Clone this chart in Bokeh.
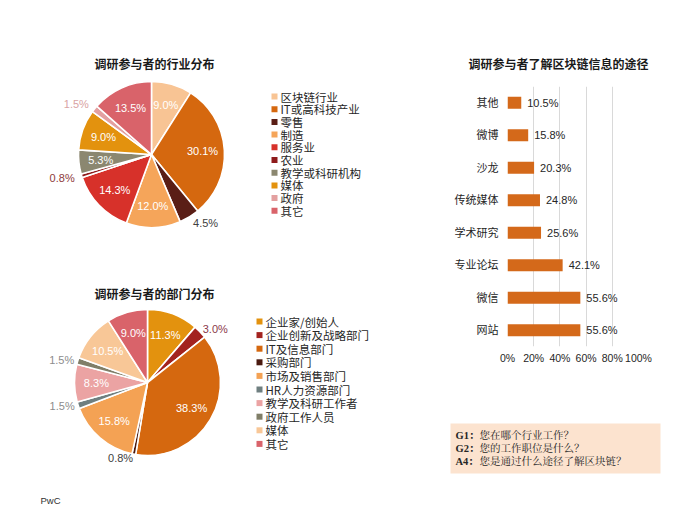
import math
from bokeh.plotting import figure
from bokeh.models import Range1d, FactorRange, FixedTicker, PrintfTickFormatter, BoxAnnotation, ColumnDataSource
from bokeh.layouts import row, column
from bokeh.embed import file_html
from bokeh.resources import INLINE
from bokeh.core.properties import value

# ---------------- data ----------------
industry_title = "调研参与者的行业分布"
industry_labels = ["区块链行业", "IT或高科技产业", "零售", "制造", "服务业", "农业",
                   "教学或科研机构", "媒体", "政府", "其它"]
industry_values = [9.0, 30.1, 4.5, 12.0, 14.3, 0.8, 5.3, 9.0, 1.5, 13.5]

dept_title = "调研参与者的部门分布"
dept_labels = ["企业家/创始人", "企业创新及战略部门", "IT及信息部门", "采购部门", "市场及销售部门",
               "HR人力资源部门", "教学及科研工作者", "政府工作人员", "媒体", "其它"]
dept_values = [11.3, 3.0, 38.3, 0.8, 15.8, 1.5, 8.3, 1.5, 10.5, 9.0]

channel_title = "调研参与者了解区块链信息的途径"
channel_labels = ["其他", "微博", "沙龙", "传统媒体", "学术研究", "专业论坛", "微信", "网站"]
channel_values = [10.5, 15.8, 20.3, 24.8, 25.6, 42.1, 55.6, 55.6]
pct_ticks = [0, 20, 40, 60, 80, 100]

note_keys = ["G1：", "G2：", "A4："]
note_questions = ["您在哪个行业工作？", "您的工作职位是什么？", "您是通过什么途径了解区块链？"]
source_text = "PwC"

# ---------------- styles ----------------
industry_colors = ["#F8C494", "#D5680F", "#5A1E16", "#F5A55A", "#D7312A", "#8E1B1B",
                   "#8B8770", "#E3920E", "#E3A0A0", "#D9636A"]
industry_out_colors = ["#FFFFFF", "#FFFFFF", "#404040", "#FFFFFF", "#FFFFFF", "#8E3A3A",
                       "#FFFFFF", "#FFFFFF", "#D9A3A3", "#FFFFFF"]
dept_colors = ["#E3920E", "#A3231F", "#D5680F", "#4A1A10", "#F4A254", "#6F7F80",
               "#EBA3A3", "#807E68", "#F8C797", "#D9636A"]
dept_out_colors = ["#FFFFFF", "#8B3A4A", "#FFFFFF", "#404040", "#FFFFFF", "#8C8C8C",
                   "#FFFFFF", "#8C8C8C", "#FFFFFF", "#FFFFFF"]
bar_color = "#D4691A"

SANS = "Liberation Sans, Noto Sans CJK SC"
CJK = "Noto Sans CJK SC"
SERIF = "Liberation Serif, Noto Serif CJK SC, Noto Sans CJK SC"


def pie_figure(w, h):
    p = figure(width=w, height=h, x_range=Range1d(0, w), y_range=Range1d(0, h),
               output_backend="svg", toolbar_location=None,
               x_axis_location=None, y_axis_location=None, min_border=0)
    p.grid.visible = False
    p.outline_line_color = None
    p.background_fill_color = "white"
    p.frame_align = False
    return p


def draw_pie(p, labels, values, colors, out_colors, cx, cy, r, title, tx, ty,
             lx, ly, lstep, out_factor=1.1):
    total = sum(values)
    starts, ends, mids = [], [], []
    cum = 0.0
    for v in values:
        a0 = cum / total
        cum += v
        a1 = cum / total
        starts.append(math.pi / 2 - 2 * math.pi * a1)
        ends.append(math.pi / 2 - 2 * math.pi * a0)
        mids.append(2 * math.pi * (a0 + a1) / 2)  # clockwise from top
    src = ColumnDataSource(dict(start=starts, end=ends, color=colors))
    p.wedge(x=cx, y=cy, radius=r, start_angle="start", end_angle="end",
            fill_color="color", line_color="white", line_width=1.6, source=src)

    ins = dict(x=[], y=[], t=[])
    outs_l = dict(x=[], y=[], t=[], c=[])
    outs_r = dict(x=[], y=[], t=[], c=[])
    for v, th, oc in zip(values, mids, out_colors):
        txt = f"{v:.1f}%"
        if v >= 5:
            d = 0.7 * r
            ins["x"].append(cx + d * math.sin(th))
            ins["y"].append(cy + d * math.cos(th))
            ins["t"].append(txt)
        else:
            d = out_factor * r
            tgt = outs_l if math.sin(th) >= 0 else outs_r
            tgt["x"].append(cx + d * math.sin(th))
            tgt["y"].append(cy + d * math.cos(th))
            tgt["t"].append(txt)
            tgt["c"].append(oc)
    p.text(x="x", y="y", text="t", source=ColumnDataSource(ins), text_color="white",
           text_align="center", text_baseline="middle",
           text_font=value(SANS), text_font_size=value("11px"))
    p.text(x="x", y="y", text="t", source=ColumnDataSource(outs_l), text_color="c",
           text_align="left", text_baseline="middle",
           text_font=value(SANS), text_font_size=value("11px"))
    p.text(x="x", y="y", text="t", source=ColumnDataSource(outs_r), text_color="c",
           text_align="right", text_baseline="middle",
           text_font=value(SANS), text_font_size=value("11px"))

    p.text(x=[tx], y=[ty], text=[title], text_align="center", text_baseline="middle",
           text_font=value(CJK), text_font_size=value("12px"), text_font_style="bold",
           text_color="#1A1A1A")

    ys = [ly - i * lstep for i in range(len(labels))]
    p.scatter(x=[lx] * len(labels), y=ys, marker="square", size=6, fill_color=colors,
              line_color=None)
    p.text(x=[lx + 6] * len(labels), y=ys, text=labels, text_align="left",
           text_baseline="middle", text_font=value(CJK), text_font_size=value("11.5px"),
           text_color="#262626")


# ---------------- pie 1 ----------------
p1 = pie_figure(430, 240)
draw_pie(p1, industry_labels, industry_values, industry_colors, industry_out_colors,
         cx=151, cy=240 - 154, r=73, title=industry_title, tx=154, ty=240 - 63,
         lx=274, ly=240 - 96, lstep=12.7)

# ---------------- pie 2 ----------------
p2 = pie_figure(430, 285)
draw_pie(p2, dept_labels, dept_values, dept_colors, dept_out_colors,
         cx=147, cy=285 - 142, r=73, title=dept_title, tx=154, ty=285 - 53,
         lx=259, ly=285 - 81, lstep=13.6, out_factor=1.05)
p2.text(x=[40], y=[25], text=[source_text], text_align="left", text_baseline="middle",
        text_font=value(SANS), text_font_size=value("9.5px"), text_color="#333333")

# ---------------- bar chart ----------------
cats = channel_labels[::-1]
vals = channel_values[::-1]
pb = figure(width=270, height=380, y_range=FactorRange(factors=cats),
            x_range=Range1d(0, 100), output_backend="svg", toolbar_location=None,
            min_border_left=77, min_border_right=62, min_border_top=86,
            min_border_bottom=34, title=channel_title)
pb.frame_align = False
pb.title.align = "left"
pb.title.offset = -39
pb.title.text_font = CJK
pb.title.text_font_size = "12px"
pb.title.text_font_style = "bold"
pb.title.text_color = "#1A1A1A"
pb.title.standoff = 30
bsrc = ColumnDataSource(dict(y=cats, v=vals, t=[f"{v:.1f}%" for v in vals]))
pb.hbar(y="y", right="v", left=0, height=0.37, source=bsrc, fill_color=bar_color,
        line_color=None)
pb.text(x="v", y="y", text="t", source=bsrc, x_offset=6, text_align="left",
        text_baseline="middle", text_font=value(SANS), text_font_size=value("11px"),
        text_color="#262626")
pb.outline_line_color = None
pb.ygrid.grid_line_color = None
pb.xgrid.grid_line_color = "#D9D9D9"
pb.xaxis.ticker = FixedTicker(ticks=pct_ticks)
pb.xaxis.formatter = PrintfTickFormatter(format="%d%%")
for ax in (pb.xaxis[0], pb.yaxis[0]):
    ax.axis_line_color = None
    ax.major_tick_line_color = None
    ax.minor_tick_line_color = None
    ax.major_tick_out = 0
    ax.major_tick_in = 0
    ax.major_label_text_color = "#262626"
    ax.major_label_text_font = SANS
pb.xaxis.major_label_text_font_size = "10.5px"
pb.yaxis.major_label_text_font_size = "11px"
pb.yaxis.major_label_standoff = 9
pb.xaxis.major_label_standoff = 5

# ---------------- note box ----------------
pn = pie_figure(270, 145)
pn.add_layout(BoxAnnotation(left=20, right=230, bottom=52, top=102, level="underlay",
                            fill_color="#FCE3CF", fill_alpha=1.0, line_color=None))
ny = [90, 77, 64]
pn.text(x=[25] * 3, y=ny, text=note_keys, text_align="left", text_baseline="middle",
        text_font=value(SERIF), text_font_size=value("10.5px"), text_font_style="bold",
        text_color="#262626")
pn.text(x=[49] * 3, y=ny, text=note_questions, text_align="left", text_baseline="middle",
        text_font=value(SERIF), text_font_size=value("10.5px"), text_color="#262626")

layout = row(column(p1, p2), column(pb, pn))
open("out.html", "w").write(file_html(layout, INLINE))
